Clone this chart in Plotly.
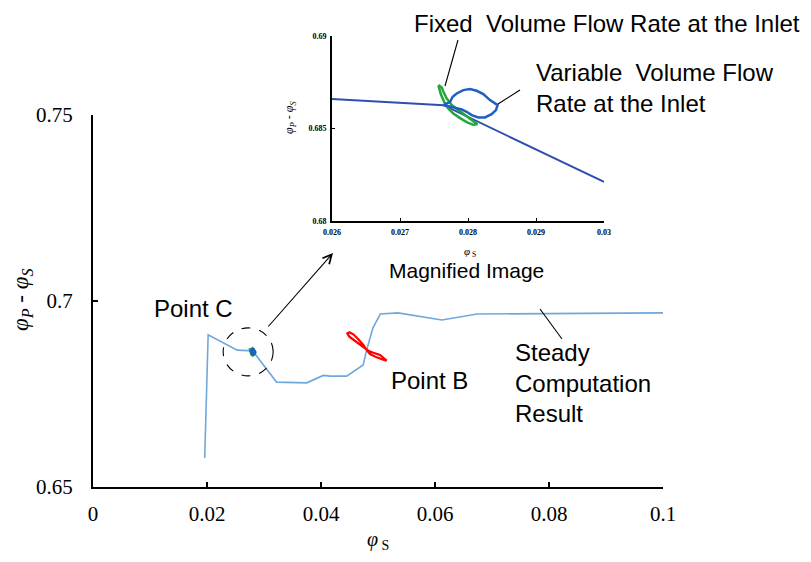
import plotly.graph_objects as go

# ---------------- data ----------------
steady_x = [0.0196, 0.0202, 0.0253, 0.0280, 0.0322, 0.0375, 0.0404, 0.0416, 0.0445,
            0.0474, 0.0480, 0.0491, 0.0504, 0.0535, 0.0612, 0.0674, 0.1000]
steady_y = [0.6578, 0.6909, 0.6868, 0.6866, 0.6782, 0.6780, 0.6800, 0.6798, 0.6798,
            0.6828, 0.6868, 0.6927, 0.6965, 0.6968, 0.6949, 0.6965, 0.6968]

pointB_x = [0.04801, 0.04743, 0.04655, 0.04567, 0.04497, 0.04462, 0.04497, 0.04596, 0.04713,
            0.04830, 0.04918, 0.05035, 0.05152, 0.05105, 0.04977, 0.04860, 0.04801]
pointB_y = [0.68683, 0.68817, 0.68970, 0.69104, 0.69158, 0.69130, 0.69041, 0.68933, 0.68790,
            0.68665, 0.68611, 0.68548, 0.68396, 0.68414, 0.68485, 0.68575, 0.68683]

inset_steady_x = [0.0260, 0.02764, 0.0300]
inset_steady_y = [0.68659, 0.68626, 0.68211]

variable_x = [0.027638, 0.027736, 0.027775, 0.027834, 0.027932, 0.028029, 0.028127, 0.028225,
              0.028323, 0.028396, 0.028435, 0.028411, 0.028347, 0.028249, 0.028152, 0.028054,
              0.027980, 0.027907, 0.027809, 0.027712, 0.027638]
variable_y = [0.686264, 0.686444, 0.686715, 0.686895, 0.687076, 0.687130, 0.687040, 0.686859,
              0.686534, 0.686354, 0.686264, 0.685993, 0.685777, 0.685596, 0.685596, 0.685722,
              0.685903, 0.686029, 0.686137, 0.686209, 0.686264]

fixed_x = [0.027565, 0.027614, 0.027638, 0.027687, 0.027760, 0.027858, 0.027980, 0.028078,
           0.028137, 0.028078, 0.027980, 0.027883, 0.027785, 0.027712, 0.027648, 0.027599,
           0.027570, 0.027565]
fixed_y = [0.687347, 0.687220, 0.686986, 0.686625, 0.686264, 0.685993, 0.685668, 0.685415,
           0.685235, 0.685199, 0.685343, 0.685560, 0.685812, 0.686065, 0.686444, 0.686859,
           0.687220, 0.687347]

main_xticks = [0, 0.02, 0.04, 0.06, 0.08, 0.1]
main_xlabels = ["0", "0.02", "0.04", "0.06", "0.08", "0.1"]
main_yticks = [0.65, 0.7, 0.75]
main_ylabels = ["0.65", "0.7", "0.75"]
inset_xticks = [0.026, 0.027, 0.028, 0.029, 0.03]
inset_xlabels = ["0.026", "0.027", "0.028", "0.029", "0.03"]
inset_yticks = [0.68, 0.685, 0.69]
inset_ylabels = ["0.68", "0.685", "0.69"]

pointC = (0.0281, 0.6866)

# ---------------- layout helpers (screen pixel -> paper) ----------------
# the page body adds an 8px margin, so the figure is sized to fit inside it
W, H = 795, 546
ML, MR, MT, MB = 85, 140, 12, 67
PW, PH = W - ML - MR, H - MT - MB
OFF = 8


def px(x):
    return (x - OFF - ML) / PW


def py(y):
    return (H - MB - (y - OFF)) / PH


SERIF = "Liberation Serif"
SANS = "Liberation Sans"

fig = go.Figure()

# main axes traces
fig.add_trace(go.Scatter(x=steady_x, y=steady_y, mode="lines",
                         line=dict(color="#6FA8DC", width=1.6), xaxis="x", yaxis="y"))
fig.add_trace(go.Scatter(x=pointB_x, y=pointB_y, mode="lines",
                         line=dict(color="#FF0000", width=2.2), xaxis="x", yaxis="y"))
fig.add_trace(go.Scatter(x=fixed_x, y=fixed_y, mode="lines",
                         line=dict(color="#22A83A", width=3), xaxis="x", yaxis="y"))
fig.add_trace(go.Scatter(x=variable_x, y=variable_y, mode="lines",
                         line=dict(color="#1F5FC0", width=3), xaxis="x", yaxis="y"))

# inset traces
fig.add_trace(go.Scatter(x=inset_steady_x, y=inset_steady_y, mode="lines",
                         line=dict(color="#2E4FAF", width=2), xaxis="x2", yaxis="y2"))
fig.add_trace(go.Scatter(x=fixed_x, y=fixed_y, mode="lines",
                         line=dict(color="#22A83A", width=2.5), xaxis="x2", yaxis="y2"))
fig.add_trace(go.Scatter(x=variable_x, y=variable_y, mode="lines",
                         line=dict(color="#1F5FC0", width=2.5), xaxis="x2", yaxis="y2"))

axis_common = dict(showgrid=False, zeroline=False, showline=True, linecolor="black",
                   ticks="inside", tickcolor="black", automargin=False)

fig.update_layout(
    width=W, height=H,
    margin=dict(l=ML, r=MR, t=MT, b=MB, autoexpand=False),
    paper_bgcolor="white", plot_bgcolor="white",
    showlegend=False,
    xaxis=dict(domain=[0, 1], range=[0, 0.1], tickvals=main_xticks, ticktext=main_xlabels,
               linewidth=2, ticklen=5, tickwidth=1.5, ticklabelstandoff=7,
               tickfont=dict(family=SERIF, size=21, color="black"),
               anchor="y", **axis_common),
    yaxis=dict(domain=[0, py(115)], range=[0.65, 0.75], tickvals=main_yticks, ticktext=main_ylabels,
               linewidth=2, ticklen=5, tickwidth=1.5, ticklabelstandoff=14,
               tickfont=dict(family=SERIF, size=21, color="black"),
               anchor="x", **axis_common),
    xaxis2=dict(domain=[px(332), px(604)], range=[0.026, 0.03], tickvals=inset_xticks,
                ticktext=inset_xlabels, linewidth=2, ticklen=3, tickwidth=1,
                ticklabelstandoff=2,
                tickfont=dict(family=SERIF, size=8, color="black", weight="bold"),
                anchor="y2", **axis_common),
    yaxis2=dict(domain=[py(221), py(36)], range=[0.68, 0.69], tickvals=inset_yticks,
                ticktext=inset_ylabels, linewidth=2, ticklen=3, tickwidth=1,
                ticklabelstandoff=2,
                tickfont=dict(family=SERIF, size=8, color="black", weight="bold"),
                anchor="x2", **axis_common),
)

ann = []


def text(x, y, s, size=24, xanchor="left", family=SANS, angle=0):
    ann.append(dict(x=px(x), y=py(y), xref="paper", yref="paper", text=s, showarrow=False,
                    xanchor=xanchor, yanchor="middle", textangle=angle,
                    font=dict(family=family, size=size, color="black")))


text(412, 23, "Fixed  Volume Flow Rate at the Inlet")
text(534, 73, "Variable  Volume Flow")
text(534, 103, "Rate at the Inlet")
text(466, 270, "Magnified Image", size=21, xanchor="center")
text(152, 308, "Point C")
text(389, 380, "Point B")
text(513, 352, "Steady")
text(513, 383, "Computation")
text(513, 413, "Result")

# axis titles (main)
text(378, 540, "<i>φ</i><sub> S</sub>", size=20, xanchor="center", family=SERIF)
text(22, 300, "<i>φ<sub>P</sub></i> - <i>φ<sub>S</sub></i>", size=23, xanchor="center",
     family=SERIF, angle=-90)
# inset axis titles
text(470, 252, "<i>φ</i><sub> S</sub>", size=11, xanchor="center", family=SERIF)
text(290, 118, "<i>φ<sub>P</sub></i> - <i>φ<sub>S</sub></i>", size=12, xanchor="center",
     family=SERIF, angle=-90)

# arrow from Point C circle to inset
ann.append(dict(x=px(333), y=py(253), xref="paper", yref="paper",
                ax=267 - 333, ay=328 - 253, axref="pixel", ayref="pixel",
                showarrow=True, arrowhead=5, arrowsize=1.6, arrowwidth=1.1,
                arrowcolor="black", text=""))
fig.update_layout(annotations=ann)

shapes = []


def seg(x0, y0, x1, y1):
    shapes.append(dict(type="line", xref="paper", yref="paper",
                       x0=px(x0), y0=py(y0), x1=px(x1), y1=py(y1),
                       line=dict(color="black", width=1.1)))


seg(458, 40, 445, 86)
seg(520, 90, 498, 104)
seg(540, 309, 562, 339)

shapes.append(dict(type="circle", xref="x", yref="y", xsizemode="pixel", ysizemode="pixel",
                   xanchor=pointC[0], yanchor=pointC[1], x0=-30, x1=20, y0=-25, y1=23,
                   line=dict(color="black", width=1.1, dash="dash")))
fig.update_layout(shapes=shapes)

fig.write_html("out.html")
